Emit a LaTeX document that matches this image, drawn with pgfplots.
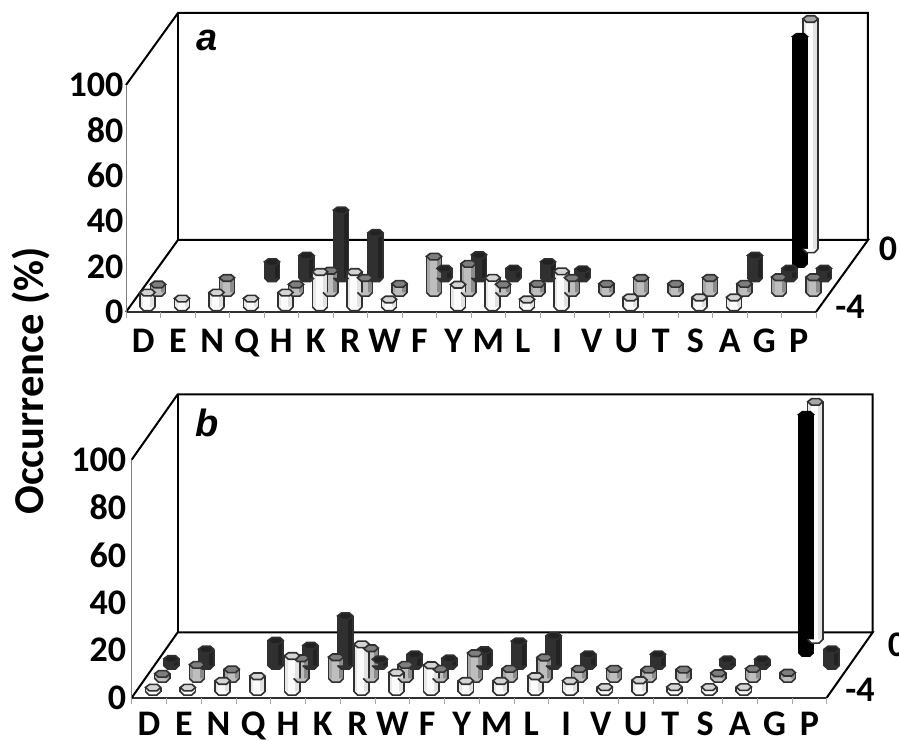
\documentclass[border=0pt]{standalone}
\usepackage{pgfplots}
\usepackage{pgfplotstable}
\usepackage{fontspec}
\pgfplotsset{compat=1.18}
\setmainfont{Carlito}
\newfontfamily\arialf{Liberation Sans}
\definecolor{ol}{HTML}{303030}
\definecolor{wfront}{HTML}{FBFBFB}
\definecolor{wleft}{HTML}{E8E8E8}
\definecolor{wside}{HTML}{E2E2E2}
\definecolor{wcap}{HTML}{D4D4D4}
\definecolor{gfront}{HTML}{BEBEBE}
\definecolor{gleft}{HTML}{A6A6A6}
\definecolor{gside}{HTML}{8C8C8C}
\definecolor{gcap}{HTML}{7E7E7E}
\definecolor{dfront}{HTML}{303030}
\definecolor{dcap}{HTML}{222222}
\pgfdeclareplotmark{hexcap}{%
  \pgfpathmoveto{\pgfqpoint{-7.6pt}{0.3pt}}%
  \pgfpathlineto{\pgfqpoint{-3.6pt}{3.3pt}}%
  \pgfpathlineto{\pgfqpoint{4.2pt}{3.3pt}}%
  \pgfpathlineto{\pgfqpoint{7.6pt}{0.3pt}}%
  \pgfpathlineto{\pgfqpoint{3.8pt}{-3.2pt}}%
  \pgfpathlineto{\pgfqpoint{-3.8pt}{-3.2pt}}%
  \pgfpathclose\pgfusepathqfillstroke}
\pgfdeclareplotmark{hexbase}{%
  \pgfpathmoveto{\pgfqpoint{-7.6pt}{0.5pt}}%
  \pgfpathlineto{\pgfqpoint{-3.8pt}{-3.2pt}}%
  \pgfpathlineto{\pgfqpoint{3.8pt}{-3.2pt}}%
  \pgfpathlineto{\pgfqpoint{7.6pt}{0.5pt}}%
  \pgfusepathqfillstroke}
\pgfdeclareplotmark{tickdown}{%
  \pgfpathmoveto{\pgfqpoint{0pt}{0pt}}%
  \pgfpathlineto{\pgfqpoint{0pt}{-6pt}}%
  \pgfusepathqstroke}
% #1 table, #2 row, #3 outline, #4 front, #5 left band, #6 side band, #7 cap
\newcommand\barrow[7]{%
  \addplot3[only marks, mark=hexbase, mark options={draw=#3, fill=#4, line width=1.6pt, solid}] table[x=x, y expr=#2, z expr=0] {#1};
  \addplot3[only marks, mark=none, error bars/.cd, z dir=minus, z explicit, error mark=none, error bar style={line width=16.8pt, draw=#3, line cap=butt}] table[x=x, y expr=#2, z=h, z error=h] {#1};
  \addplot3[only marks, mark=none, error bars/.cd, z dir=minus, z explicit, error mark=none, error bar style={line width=13.6pt, draw=#4, line cap=butt}] table[x=x, y expr=#2, z=h, z error=h] {#1};
  \addplot3[only marks, mark=none, error bars/.cd, z dir=minus, z explicit, error mark=none, error bar style={line width=2.6pt, draw=#5, line cap=butt, xshift=-5.5pt}] table[x=x, y expr=#2, z=h, z error=h] {#1};
  \addplot3[only marks, mark=none, error bars/.cd, z dir=minus, z explicit, error mark=none, error bar style={line width=4pt, draw=#6, line cap=butt, xshift=4.8pt}] table[x=x, y expr=#2, z=h, z error=h] {#1};
  \addplot3[only marks, mark=hexcap, mark options={draw=#3, fill=#7, line width=1.6pt, solid}] table[x=x, y=y0, z=h] {#1};
}
\pgfplotsset{panel/.style={
  clip=false, zmin=0, zmax=100,
  axis line style={draw=none}, tick style={draw=none},
  xtick={0,...,19},
  xticklabels={D,E,N,Q,H,K,R,W,F,Y,M,L,I,V,U,T,S,A,G,P},
  ytick=\empty, ztick={0,20,40,60,80,100},
  /pgf/number format/assume math mode=true,
  tick label style={font=\fontsize{36}{36}\selectfont\bfseries},
  x tick label style={anchor=north, text height=23pt, text depth=0pt, yshift=-14pt},
  z tick label style={anchor=east, xshift=1pt},
}}
% Panel a: x = category index, h = occurrence in %
\pgfplotstableread{
x y0 h
0 -4 6.5
1 -4 3.9
2 -4 6.5
3 -4 3.9
4 -4 6.5
5 -4 15.6
6 -4 15.6
7 -4 3.5
9 -4 10
10 -4 13
11 -4 3.5
12 -4 15.9
14 -4 4.4
16 -4 4.4
17 -4 4.4
}\aW
\pgfplotstableread{
x y0 h
0 -3 3.7
2 -3 6.6
4 -3 3.7
5 -3 9.8
6 -3 6.6
7 -3 4
8 -3 16
9 -3 12.8
10 -3 3.7
11 -3 4
12 -3 6.6
13 -3 4
14 -3 6.6
15 -3 4
16 -3 6.6
17 -3 4
18 -3 6.9
19 -3 6.9
}\aG
\pgfplotstableread{
x y0 h
3 -2 7.2
4 -2 10
5 -2 30
6 -2 20
8 -2 4.3
9 -2 10.3
10 -2 4.3
11 -2 7.2
12 -2 4
17 -2 10
18 -2 4.3
19 -2 4.3
}\aD
\pgfplotstableread{
x y0 h
18 -1 100
}\aK
\pgfplotstableread{
x y0 h
18 0 101.5
}\aB
% Panel b
\pgfplotstableread{
x y0 h
0 -4 1.8
1 -4 1.8
2 -4 4.6
3 -4 6.6
4 -4 15.1
6 -4 20
7 -4 8.1
8 -4 11.2
9 -4 4.6
10 -4 4.6
11 -4 6.6
12 -4 4.6
13 -4 2
14 -4 4.9
15 -4 2
16 -4 2
17 -4 2
}\bW
\pgfplotstableread{
x y0 h
0 -3 2.1
1 -3 5.9
2 -3 4
4 -3 8.7
5 -3 9.1
6 -3 12.9
7 -3 5.9
8 -3 4.2
9 -3 10.8
10 -3 4.2
11 -3 9
12 -3 4.2
13 -3 4.2
14 -3 3.9
15 -3 3.9
16 -3 2.4
17 -3 4.2
18 -3 2.6
}\bG
\pgfplotstableread{
x y0 h
0 -2 2.9
1 -2 6.9
3 -2 10.6
4 -2 8.5
5 -2 20.9
6 -2 2.7
7 -2 4.8
8 -2 3.1
9 -2 6.6
10 -2 10.3
11 -2 12.6
12 -2 4.8
14 -2 4.8
16 -2 2.7
17 -2 2.7
19 -2 6.9
}\bD
\pgfplotstableread{
x y0 h
18 -1 100
}\bK
\pgfplotstableread{
x y0 h
18 0 100
}\bB
% boundaries of the 20 categories
\pgfplotstableread{
x y0 h
0 0 0
1 0 0
2 0 0
3 0 0
4 0 0
5 0 0
6 0 0
7 0 0
8 0 0
9 0 0
10 0 0
11 0 0
12 0 0
13 0 0
14 0 0
15 0 0
16 0 0
17 0 0
18 0 0
19 0 0
20 0 0
}\catedges
% #1 ymin, #2 ymax, #3 xmin, #4 xmax
\newcommand\frameaxis[4]{%
  \addplot3[ol, line width=1.8pt, mark=none] coordinates {(#3,#1,0) (#4,#1,0)};
  \addplot3[black, line width=2pt, mark=none] coordinates {(#3,#1,0) (#3,#2,0) (#4,#2,0) (#4,#1,0)};
  \addplot3[black, line width=2pt, mark=none] coordinates {(#3,#1,100) (#3,#2,100) (#4,#2,100) (#4,#2,0)};
  \addplot3[black, line width=2pt, mark=none] coordinates {(#3,#2,0) (#3,#2,100)};
  \addplot3[gray, line width=1pt, mark=none] coordinates {(#3,#1,0) (#3,#1,100)};
  \addplot3[only marks, mark=tickdown, mark options={draw=black!35, line width=0.9pt}] table[x expr=\thisrow{x}+#3, y expr=#1, z expr=0] {\catedges};
}
\begin{document}
\begin{tikzpicture}[x=1pt,y=1pt]
\useasboundingbox (0,0) rectangle (899,741);
\begin{axis}[panel, name=pa, anchor=south west, at={(126pt,429pt)},
  xmin=-0.53, xmax=19.47, ymin=-4.31, ymax=0.655,
  x={(34.5pt,0pt)}, y={(10.47pt,14.5pt)}, z={(0pt,2.27pt)},
  x tick label style={xshift=-1pt}]
  \frameaxis{-4.31}{0.655}{-0.53}{19.47}
  \barrow{\aB}{0}{ol}{wfront}{wleft}{wside}{gleft}
  \barrow{\aK}{-1}{black}{black}{black}{black}{black}
  \barrow{\aD}{-2}{ol}{dfront}{dfront}{dcap}{dcap}
  \barrow{\aG}{-3}{ol}{gfront}{gleft}{gside}{gcap}
  \barrow{\aW}{-4}{ol}{wfront}{wleft}{wside}{wcap}
\end{axis}
\begin{axis}[panel, name=pb, anchor=south west, at={(131.7pt,43.3pt)},
  xmin=-0.5, xmax=19.5, ymin=-4.44, ymax=0.59,
  x={(34.75pt,0pt)}, y={(9.15pt,13pt)}, z={(0pt,2.38pt)},
  x tick label style={yshift=3pt},
  z tick label style={xshift=-3pt}]
  \frameaxis{-4.44}{0.59}{-0.5}{19.5}
  \barrow{\bB}{0}{ol}{wfront}{wleft}{wside}{gleft}
  \barrow{\bK}{-1}{black}{black}{black}{black}{black}
  \barrow{\bD}{-2}{ol}{dfront}{dfront}{dcap}{dcap}
  \barrow{\bG}{-3}{ol}{gfront}{gleft}{gside}{gcap}
  \barrow{\bW}{-4}{ol}{wfront}{wleft}{wside}{wcap}
\end{axis}
\node[font=\fontsize{42.5}{42.5}\selectfont\bfseries, rotate=90] at (31,360) {Occurrence (\%)};
\node[font=\arialf\fontsize{38}{38}\selectfont\bfseries\itshape] at (207,701) {a};
\node[font=\arialf\fontsize{38}{38}\selectfont\bfseries\itshape] at (207,318) {b};
\node[font=\fontsize{36}{36}\selectfont\bfseries] at (888,492) {0};
\node[font=\fontsize{36}{36}\selectfont\bfseries] at (850,434) {-4};
\node[font=\fontsize{36}{36}\selectfont\bfseries] at (897,96) {0};
\node[font=\fontsize{36}{36}\selectfont\bfseries] at (860,51) {-4};
\end{tikzpicture}
\end{document}
